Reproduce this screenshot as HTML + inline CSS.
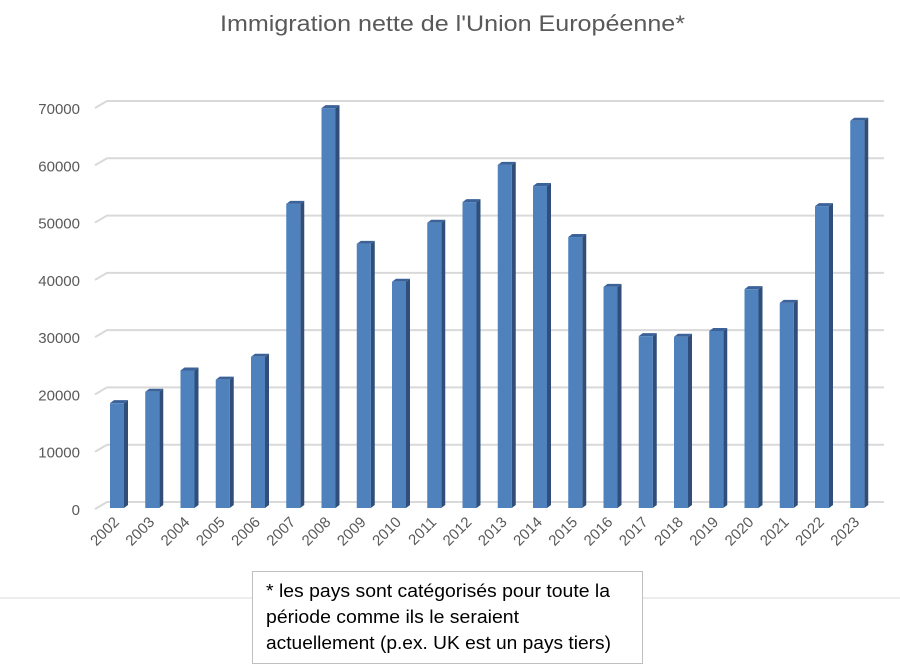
<!DOCTYPE html>
<html><head><meta charset="utf-8"><style>
html,body{margin:0;padding:0;background:#fff}
svg{display:block}
text{font-family:"Liberation Sans",sans-serif}
</style></head><body>
<svg width="900" height="672" xmlns="http://www.w3.org/2000/svg">
<text x="220" y="31" font-size="22" fill="#595959" textLength="465" lengthAdjust="spacingAndGlyphs">Immigration nette de l'Union Européenne*</text>
<g id="grid" stroke="#d9d9d9" stroke-width="2" fill="none"></g>
<g id="ylab" font-size="15" fill="#595959" text-anchor="end"></g>
<g id="bars"></g>
<g id="xlab" font-size="15" fill="#595959" text-anchor="end"></g>
<line x1="0" y1="598" x2="900" y2="598" stroke="#d9d9d9" stroke-width="1"/>
<rect x="252.5" y="571.5" width="390" height="92" fill="#fff" stroke="#bfbfbf" stroke-width="1"/>
<g font-size="18" fill="#000" lengthAdjust="spacingAndGlyphs">
<text x="266" y="597" textLength="344" lengthAdjust="spacingAndGlyphs">* les pays sont catégorisés pour toute la</text>
<text x="266" y="623" textLength="253" lengthAdjust="spacingAndGlyphs">période comme ils le seraient</text>
<text x="266" y="649" textLength="345" lengthAdjust="spacingAndGlyphs">actuellement (p.ex. UK est un pays tiers)</text>
</g>
</svg>
<script>
const ns="http://www.w3.org/2000/svg";
function el(p,t,a,txt){const e=document.createElementNS(ns,t);for(const k in a)e.setAttribute(k,a[k]);if(txt!==undefined)e.textContent=txt;document.getElementById(p).appendChild(e);}
const k=401/70000;
for(let i=0;i<=7;i++){
 const yb=502-i*10000*k, yf=yb+7;
 el("grid","polyline",{points:`95,${yf} 107,${yb} 884,${yb}`});
 el("ylab","text",{x:80,y:yf+6},String(i*10000));
}
const vals=[18300,20300,24000,22400,26400,53100,69800,46100,39500,49800,53400,59900,56200,47300,38600,30000,29900,30900,38200,35800,52700,67600];
vals.forEach((v,i)=>{
 const x=110+i*35.25, w=14, d=4, yb=508, yt=508-v*k;
 el("bars","polygon",{points:`${x+w},${yt} ${x+w+d},${yt-3} ${x+w+d},${yb-3} ${x+w},${yb}`,fill:"#2f4f7a"});
 el("bars","polygon",{points:`${x},${yt} ${x+d},${yt-3} ${x+w+d},${yt-3} ${x+w},${yt}`,fill:"#3c629a"});
 el("bars","rect",{x:x,y:yt,width:w,height:yb-yt,fill:"#4f81bd"});
 const cx=x+10, cy=523;
 el("xlab","text",{x:cx,y:cy,transform:`rotate(-45 ${cx} ${cy})`},String(2002+i));
});
</script>
</body></html>
